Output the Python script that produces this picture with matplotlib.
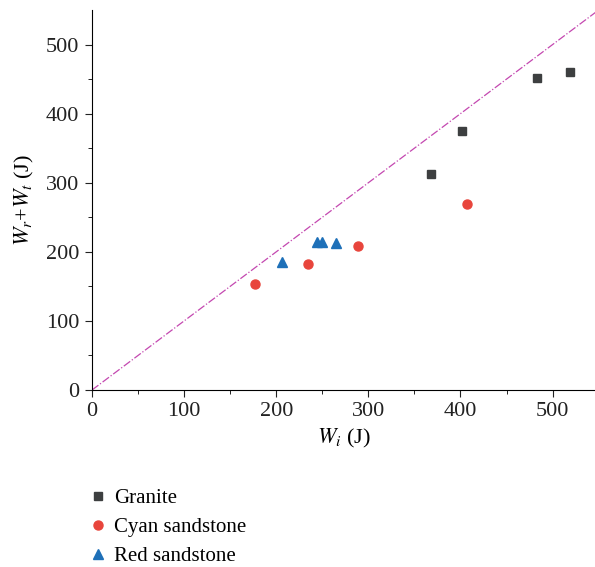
import matplotlib.pyplot as plt
from matplotlib.lines import Line2D

plt.rcParams['font.family'] = ['Liberation Serif', 'DejaVu Serif']
plt.rcParams['mathtext.fontset'] = 'stix'

granite_x = [368, 402, 483, 519]
granite_y = [312, 375, 452, 460]
cyan_x = [177, 235, 289, 407]
cyan_y = [154, 183, 209, 269]
red_x = [206, 244, 250, 265]
red_y = [185, 214, 214, 213]

fig = plt.figure(figsize=(5.95, 5.67), dpi=100)
ax = fig.add_axes([92/595, 1-390/567, (595-92)/595, 380/567])

ax.plot([0, 550], [0, 550], color='#c448b0', lw=0.9, ls='-.', zorder=1)
ax.plot(granite_x, granite_y, 's', color='#3d3f40', ms=6, ls='none', label='Granite')
ax.plot(cyan_x, cyan_y, 'o', color='#e8453c', ms=6.5, ls='none', label='Cyan sandstone')
ax.plot(red_x, red_y, '^', color='#1e70b8', ms=7, ls='none', label='Red sandstone')

ax.set_xlim(0, 546)
ax.set_ylim(0, 550)
ax.set_xticks([0, 100, 200, 300, 400, 500])
ax.set_yticks([0, 100, 200, 300, 400, 500])
ax.set_xticks(range(50, 550, 100), minor=True)
ax.set_yticks(range(50, 550, 100), minor=True)
ax.spines['top'].set_visible(False)
ax.spines['right'].set_visible(False)
ax.tick_params(which='major', direction='out', length=5, labelsize=16, colors='#222222', pad=4)
ax.tick_params(which='minor', direction='out', length=3)
ax.set_xlabel(r'$W_i$ (J)', fontsize=16, labelpad=4)
ax.set_ylabel(r'$W_r$+$W_t$ (J)', fontsize=16, labelpad=7)

handles = [Line2D([], [], marker='s', color='#3d3f40', ms=6, ls='none'),
           Line2D([], [], marker='o', color='#e8453c', ms=6.5, ls='none'),
           Line2D([], [], marker='^', color='#1e70b8', ms=7, ls='none')]
fig.legend(handles, ['Granite', 'Cyan sandstone', 'Red sandstone'],
           loc='upper left', bbox_to_anchor=(69/595, 1-470/567), frameon=False,
           fontsize=15, handlelength=1.0, handletextpad=0.25, labelspacing=0.45)

fig.savefig('out.png', dpi=100)
